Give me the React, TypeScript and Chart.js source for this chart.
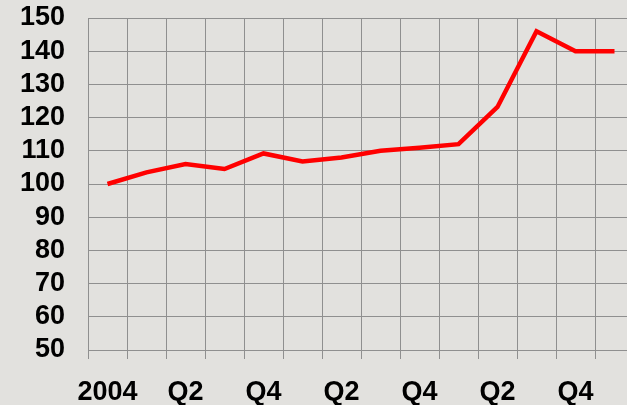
import React, { useEffect, useRef } from "react";
import { Chart, registerables } from "chart.js";

Chart.register(...registerables);

const categories = ["2004", "", "Q2", "", "Q4", "", "Q2", "", "Q4", "", "Q2", "", "Q4", ""];
const seriesValues = [100, 103.5, 106, 104.5, 109.2, 106.8, 108, 110, 110.9, 112, 123.2, 146, 140, 140];
const yMin = 50;
const yMax = 150;
const yStep = 10;

const BG = "#e2e1de";
const GRID = "#8f8f8f";

export default function App() {
  const ref = useRef<HTMLCanvasElement | null>(null);

  useEffect(() => {
    document.body.style.margin = "0";
    document.body.style.overflow = "hidden";
    const canvas = ref.current;
    if (!canvas) return;
    const font = { family: "'Liberation Sans', Arial, sans-serif", size: 27, weight: "bold" as const };
    const chart = new Chart(canvas, {
      type: "line",
      data: {
        labels: categories,
        datasets: [
          {
            data: seriesValues,
            borderColor: "#ff0000",
            borderWidth: 4.5,
            pointRadius: 0,
            tension: 0,
            borderJoinStyle: "miter",
            fill: false,
          },
        ],
      },
      options: {
        responsive: false,
        animation: false,
        devicePixelRatio: 1,
        layout: { padding: { top: 18, right: 6, bottom: 0, left: 0 } },
        plugins: { legend: { display: false }, tooltip: { enabled: false } },
        scales: {
          x: {
            type: "category",
            offset: true,
            grid: { offset: true, color: GRID, lineWidth: 1, tickLength: 9, drawTicks: true },
            border: { color: GRID, width: 1 },
            ticks: { autoSkip: false, maxRotation: 0, minRotation: 0, color: "#000", font, padding: 17 },
            afterFit: (s: any) => {
              s.height = 55;
              s.paddingLeft = 0;
              s.paddingRight = 0;
            },
          },
          y: {
            min: yMin,
            max: yMax,
            grid: { color: GRID, lineWidth: 1, drawTicks: false },
            border: { color: GRID, width: 1 },
            ticks: { stepSize: yStep, autoSkip: false, color: "#000", font, padding: 23 },
            afterFit: (s: any) => {
              s.width = 88;
              s.paddingTop = 0;
              s.paddingBottom = 0;
            },
          },
        },
      },
    });
    return () => chart.destroy();
  }, []);

  return (
    <div
      style={{
        position: "fixed",
        left: 0,
        top: 0,
        width: 627,
        height: 405,
        overflow: "hidden",
        background: BG,
      }}
    >
      <canvas ref={ref} width={640} height={405} style={{ display: "block", width: 640, height: 405 }} />
    </div>
  );
}
